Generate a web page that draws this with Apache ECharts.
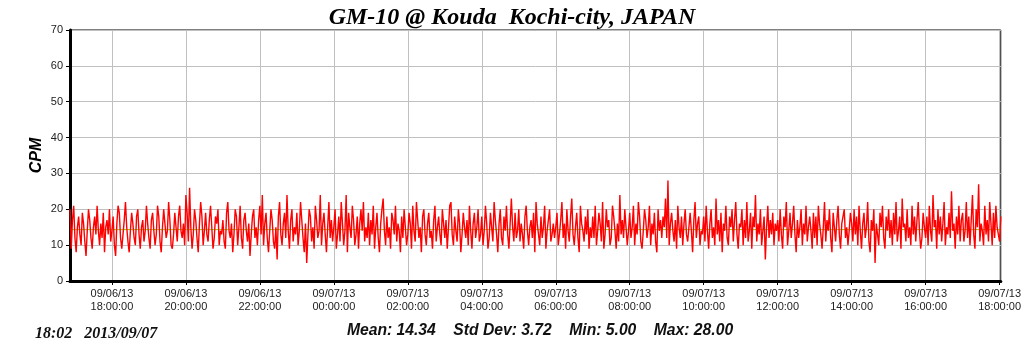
<!DOCTYPE html>
<html>
<head>
<meta charset="utf-8">
<script src="https://cdn.jsdelivr.net/npm/echarts@6/dist/echarts.min.js"></script>
<style>
  html, body { margin: 0; padding: 0; background: #fff; }
  #chart { width: 1024px; height: 351px; }
</style>
</head>
<body>
<div id="chart"></div>
<script>
// counts per minute, one reading every 2 minutes, from 09/06/13 16:52
var startTime = new Date(2013, 8, 6, 16, 52, 0).getTime();
var stepMs = 2 * 60 * 1000;
var cpm = [
  20,9,17,21,12,8,15,18,13,10,19,16,11,7,14,20,17,12,9,15,18,13,21,14,10,16,12,19,8,15,17,13,20,11,
  14,18,10,7,16,21,19,12,9,13,17,22,15,11,8,14,19,16,12,10,18,20,13,9,15,17,11,14,21,16,
  12,9,17,19,14,10,13,21,18,11,8,15,20,16,12,14,22,17,10,9,13,19,15,11,18,21,14,12,16,10,
  24,19,11,26,15,9,13,20,17,12,8,16,22,18,10,14,19,13,11,17,21,15,9,12,18,16,20,10,14,13,
  17,11,9,19,22,14,12,16,8,13,20,18,10,15,21,12,9,17,19,14,11,16,7,13,18,20,12,15,10,17,
  21,13,24,10,16,19,12,8,14,20,17,11,9,15,6,18,22,13,10,16,19,12,24,14,9,17,20,11,15,13,
  19,10,14,22,17,12,8,16,5,13,20,18,11,15,9,21,17,12,14,24,10,16,19,13,8,15,22,12,17,11,
  15,20,9,13,18,11,22,16,10,14,24,8,19,15,12,21,17,10,13,18,9,16,20,14,22,11,15,12,19,10,
  17,13,21,9,15,19,12,8,16,20,23,14,10,18,12,15,9,19,17,13,21,11,16,14,8,18,12,20,15,10,
  13,19,16,9,21,14,11,22,17,12,15,8,18,20,13,10,16,19,12,14,9,17,21,11,15,18,13,10,20,16,
  12,17,9,15,21,22,13,10,18,14,11,20,16,8,13,19,15,12,17,10,21,14,9,16,19,12,15,20,11,13,
  18,10,14,21,16,9,12,19,15,11,22,17,13,8,16,20,12,10,18,14,21,13,9,16,23,15,11,19,12,14,
  20,11,16,13,9,18,21,14,10,15,17,12,19,8,22,16,13,10,18,12,15,21,9,14,17,20,11,13,16,12,
  15,19,10,13,17,22,12,16,9,20,14,11,18,23,13,10,15,19,12,8,21,16,14,11,18,13,20,9,15,12,
  18,12,21,10,14,19,16,11,22,9,13,20,15,17,10,12,21,18,14,9,16,11,24,13,17,12,20,15,10,14,
  19,12,15,21,10,16,13,22,18,11,9,14,20,17,12,15,21,10,16,13,19,11,8,20,14,17,12,18,15,23,
  12,28,10,16,19,14,11,17,9,21,15,12,18,10,16,20,13,11,15,19,14,8,17,22,12,16,18,10,14,13,
  18,11,21,14,9,16,20,12,15,10,23,13,17,11,19,8,16,14,21,12,10,18,15,20,11,17,22,13,9,16,
  15,20,10,17,12,22,11,14,19,9,18,15,24,11,16,13,20,10,14,18,6,15,21,12,17,13,19,10,16,14,
  17,11,20,13,9,18,15,22,10,14,19,12,16,21,13,8,17,12,15,20,10,16,13,21,11,15,18,14,9,19,
  12,18,10,21,16,13,9,15,22,11,17,14,20,12,8,19,15,11,17,21,13,9,16,18,20,12,15,10,14,19,
  16,11,20,13,18,10,21,14,9,16,19,12,15,22,11,8,17,14,20,5,16,13,10,19,15,21,12,9,18,14,
  20,12,17,10,19,13,22,11,14,18,9,23,15,16,11,20,12,15,10,21,13,18,11,17,22,14,9,12,19,15,
  12,18,10,21,14,11,24,15,17,9,20,13,18,11,16,22,10,15,13,19,12,25,14,16,9,18,13,21,11,17,
  19,11,14,22,12,18,10,17,24,13,9,20,15,27,11,16,14,10,21,13,17,11,22,16,10,19,12,21,15,13,
  11,18
];
var statNames = ['Mean', 'Std Dev', 'Min', 'Max'];
var statValues = [14.34, 3.72, 5.00, 28.00];
var stampText = '18:02   2013/09/07';
var yTicks = [0, 70, 10]; // min, max, step

var seriesPoints = [];
for (var i = 0; i < cpm.length; i++) {
  seriesPoints.push([startTime + i * stepMs, cpm[i]]);
}
var endTime = startTime + (cpm.length - 1) * stepMs;
var meanLine = [[startTime, statValues[0]], [endTime, statValues[0]]];

var statsText = statNames.map(function (n, k) {
  return n + ': ' + statValues[k].toFixed(2);
}).join('    ');

function pad(n) { return (n < 10 ? '0' : '') + n; }

var chart = echarts.init(document.getElementById('chart'));
var option = {
  animation: false,
  backgroundColor: '#fff',
  title: [
    {
      text: 'GM-10 @ Kouda  Kochi-city, JAPAN',
      left: 'center', top: 1,
      textStyle: { fontFamily: 'Liberation Serif', fontStyle: 'italic', fontWeight: 'bold', fontSize: 24, color: '#000' }
    },
    {
      text: statsText,
      left: 535, top: 318, textAlign: 'center',
      textStyle: { fontFamily: 'Liberation Sans', fontStyle: 'italic', fontWeight: 'bold', fontSize: 15.7, color: '#111' }
    },
    {
      text: stampText,
      left: 30, top: 321,
      textStyle: { fontFamily: 'Liberation Serif', fontStyle: 'italic', fontWeight: 'bold', fontSize: 16, color: '#111' }
    }
  ],
  grid: {
    left: 70, right: 21, top: 30, bottom: 70,
    show: true, borderColor: '#000', borderWidth: 1
  },
  xAxis: {
    type: 'time',
    min: startTime,
    max: endTime,
    splitNumber: 12,
    axisLine: { lineStyle: { color: '#000', width: 3 } },
    axisTick: { show: true, length: 4, lineStyle: { color: '#000' } },
    splitLine: { show: true, lineStyle: { color: '#c0c0c0', width: 1 } },
    axisLabel: {
      color: '#222', fontFamily: 'Liberation Sans', fontSize: 11, lineHeight: 13, margin: 6,
      hideOverlap: false,
      formatter: function (v) {
        var d = new Date(v);
        return pad(d.getMonth() + 1) + '/' + pad(d.getDate()) + '/' + pad(d.getFullYear() % 100) +
          '\n' + pad(d.getHours()) + ':' + pad(d.getMinutes()) + ':' + pad(d.getSeconds());
      }
    }
  },
  yAxis: {
    type: 'value',
    min: yTicks[0], max: yTicks[1], interval: yTicks[2],
    name: 'CPM', nameLocation: 'middle', nameGap: 25, nameRotate: 90, nameMoveOverlap: false,
    nameTextStyle: { fontFamily: 'Liberation Sans', fontStyle: 'italic', fontWeight: 'bold', fontSize: 16, color: '#000' },
    axisLine: { show: true, lineStyle: { color: '#000', width: 3 } },
    axisTick: { show: true, length: 4, lineStyle: { color: '#000' } },
    splitLine: { show: true, lineStyle: { color: '#c0c0c0', width: 1 } },
    axisLabel: { color: '#222', fontFamily: 'Liberation Sans', fontSize: 11, margin: 7 }
  },
  series: [
    {
      name: 'mean', type: 'line', data: meanLine, showSymbol: false, silent: true, z: 1,
      lineStyle: { color: '#99cc00', width: 1 }
    },
    {
      name: 'CPM', type: 'line', data: seriesPoints, showSymbol: false, z: 2,
      lineStyle: { color: '#ff0000', width: 1.4 }
    }
  ]
};
chart.setOption(option);
window.addEventListener('resize', chart.resize);
</script>
</body>
</html>
